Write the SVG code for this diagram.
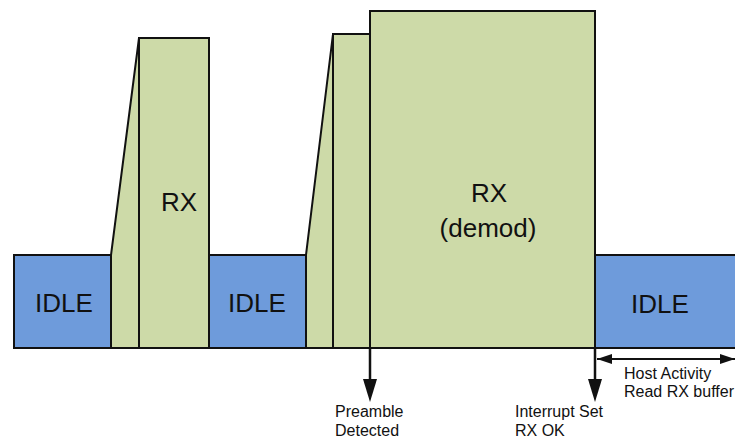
<svg xmlns="http://www.w3.org/2000/svg" width="735" height="438" viewBox="0 0 735 438">
  <style>
    .idle { fill: #6e9bdb; stroke: #111; stroke-width: 2; }
    .rx { fill: #cddaa8; stroke: #111; stroke-width: 2; stroke-linejoin: miter; }
    .big { font-family: "Liberation Sans", Arial, sans-serif; font-size: 26px; fill: #111; text-anchor: middle; }
    .note { font-family: "Liberation Sans", Arial, sans-serif; font-size: 16px; fill: #111; }
    .wire { stroke: #111; stroke-width: 2.5; fill: none; }
    .head { fill: #111; }
  </style>
  <defs>
    <marker id="tip" viewBox="0 0 15 10" refX="15" refY="5" markerWidth="15" markerHeight="10" markerUnits="userSpaceOnUse" orient="auto-start-reverse">
      <path d="M0,0 L15,5 L0,10 Z" class="head"/>
    </marker>
  </defs>

  <g id="idle-1">
    <rect class="idle" x="14" y="255" width="97" height="93"/>
    <text class="big" x="64" y="312">IDLE</text>
  </g>

  <g id="rx-1">
    <polygon class="rx" points="111,348 111,255 139,38 139,348"/>
    <rect class="rx" x="139" y="38" width="70" height="310"/>
    <text class="big" x="179" y="211">RX</text>
  </g>

  <g id="idle-2">
    <rect class="idle" x="209" y="255" width="97" height="93"/>
    <text class="big" x="257" y="312">IDLE</text>
  </g>

  <g id="rx-2">
    <polygon class="rx" points="306,348 306,255 333,34 333,348"/>
    <rect class="rx" x="333" y="34" width="37" height="314"/>
  </g>

  <g id="rx-demod">
    <rect class="rx" x="370" y="11" width="225" height="337"/>
    <text class="big" x="489" y="202">RX</text>
    <text class="big" x="488" y="237">(demod)</text>
  </g>

  <g id="idle-3">
    <rect class="idle" x="595" y="255" width="150" height="93"/>
    <text class="big" x="660" y="313">IDLE</text>
  </g>

  <g id="connectors">
    <!-- preamble detected -->
    <line class="wire" x1="370" y1="348" x2="370" y2="380"/>
    <polygon class="head" points="363,379 377,379 370,402"/>
    <!-- interrupt set -->
    <line class="wire" x1="595" y1="348" x2="595" y2="380"/>
    <polygon class="head" points="588,379 602,379 595,402"/>
    <!-- host activity span -->
    <line x1="597" y1="359" x2="735" y2="359" stroke="#111" stroke-width="2" marker-start="url(#tip)" marker-end="url(#tip)"/>
  </g>

  <g id="labels">
    <text class="note" x="335" y="417">Preamble</text>
    <text class="note" x="335" y="436">Detected</text>
    <text class="note" x="515" y="417">Interrupt Set</text>
    <text class="note" x="515" y="436">RX OK</text>
    <text class="note" x="624" y="379">Host Activity</text>
    <text class="note" x="624" y="397">Read RX buffer</text>
  </g>
</svg>
